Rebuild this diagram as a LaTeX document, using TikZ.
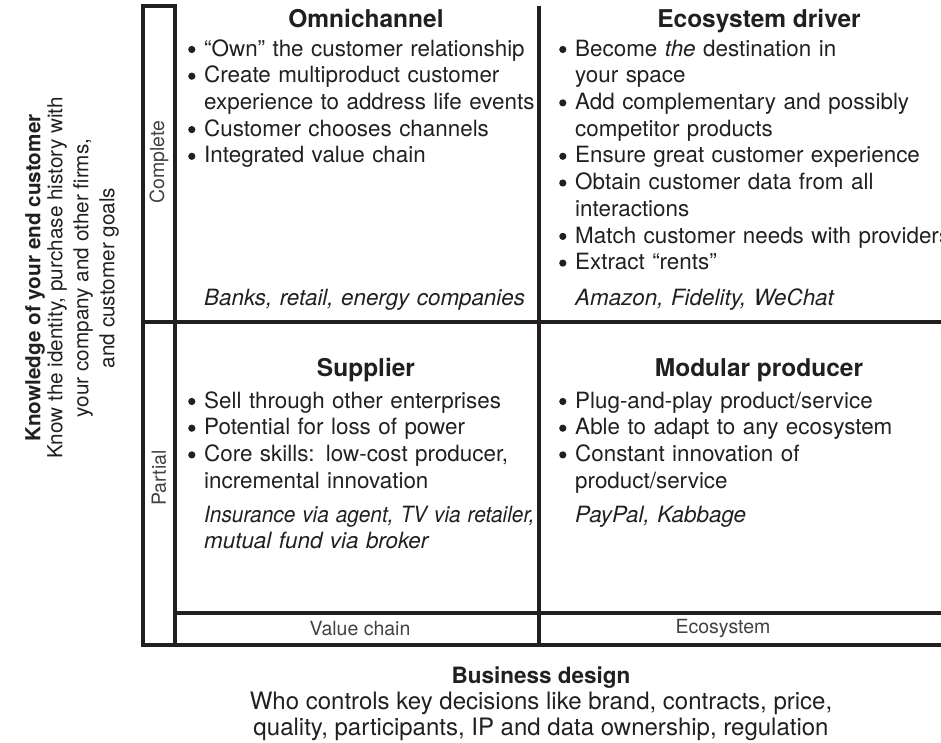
\documentclass[tikz,border=0pt]{standalone}
\usepackage{fontspec}
\setmainfont{TeX Gyre Heros}
\definecolor{ink}{HTML}{231F20}
\newcommand{\dotmark}{\tikz[baseline={(0pt,-6.7pt)}]\fill[ink] (0pt,0pt) circle (3.6pt);}
\newcommand{\bul}{\noindent\hangindent=16pt\hangafter=1\makebox[16pt][l]{\dotmark}}
\tikzset{
  grid/.style={line width=3.6pt, draw=ink},
  quadtitle/.style={anchor=base, inner sep=0pt, text=ink, font=\fontsize{24.5}{29}\selectfont\bfseries},
  quadbody/.style={anchor=north west, inner sep=0pt, text=ink, text width=420pt, align=left, font=\fontsize{22.4}{26.7}\selectfont},
  example/.style={quadbody, font=\fontsize{22.4}{26.7}\selectfont\itshape},
  axislabel/.style={inner sep=0pt, text=ink!85, font=\fontsize{19.5}{23}\selectfont},
}
\begin{document}
\begin{tikzpicture}[x=1pt, y=-1pt]
      \useasboundingbox (0,0) rectangle (941,742);
      % grid
      \draw[grid] (143,6) rectangle (175,645);
      \draw[grid] (143,322) -- (941,322);
      \draw[grid] (175,613) -- (941,613);
      \draw[grid] (175,645) -- (941,645);
      \draw[grid] (539,6) -- (539,645);
      % row and column labels
      \node[axislabel, rotate=90] (complete) at (159,162) {Complete};
      \node[axislabel, rotate=90] (partial) at (159,478) {Partial};
      \node[axislabel] (valuechain) at (360,629) {Value chain};
      \node[axislabel] (ecosystem) at (723,629) {Ecosystem};
      % top left
      \node[quadtitle] (omni) at (366,27) {Omnichannel};
      \node[quadbody] (omnibody) at (188,37.3) {\strut
        \bul ``Own'' the customer relationship\par
        \bul Create multiproduct customer\newline experience to address life events\par
        \bul Customer chooses channels\par
        \bul Integrated value chain\par};
      \node[example] (omniex) at (204,286.3) {\strut Banks, retail, energy companies};
      % top right
      \node[quadtitle] (driver) at (759,27) {Ecosystem driver};
      \node[quadbody] (driverbody) at (559,37.3) {\strut
        \bul Become \textit{the} destination in\newline your space\par
        \bul Add complementary and possibly\newline competitor products\par
        \bul Ensure great customer experience\par
        \bul Obtain customer data from all\newline interactions\par
        \bul Match customer needs with providers\par
        \bul Extract ``rents''\par};
      \node[example] (driverex) at (575,286.3) {\strut Amazon, Fidelity, WeChat};
      % bottom left
      \node[quadtitle] (supplier) at (366,376) {Supplier};
      \node[quadbody] (supplierbody) at (188,389.3) {\strut
        \bul Sell through other enterprises\par
        \bul Potential for loss of power\par
        \bul Core skills: low-cost producer,\newline incremental innovation\par};
      \node[example] (supplierex) at (204,503.3) {\strut \scalebox{0.93}[1]{Insurance via agent, TV via retailer,}\newline mutual fund via broker};
      % bottom right
      \node[quadtitle] (modular) at (759,376) {Modular producer};
      \node[quadbody] (modularbody) at (559,389.3) {\strut
        \bul Plug-and-play product/service\par
        \bul Able to adapt to any ecosystem\par
        \bul Constant innovation of\newline product/service\par};
      \node[example] (modularex) at (575,503.3) {\strut PayPal, Kabbage};
      % axes
      \node[rotate=90, align=center, inner sep=0pt, text=ink, font=\fontsize{20.7}{26}\selectfont] (knowledge) at (72,278)
        {\textbf{Knowledge of your end customer}\\[-4pt] Know the identity, purchase history with\\ your company and other firms,\\ and customer goals};
      \node[align=center, inner sep=0pt, text=ink, font=\fontsize{24}{26}\selectfont] (design) at (541,704)
        {{\fontsize{22.5}{26}\selectfont\bfseries Business design}\\ Who controls key decisions like brand, contracts, price,\\ quality, participants, IP and data ownership, regulation};
    \end{tikzpicture}
\end{document}
